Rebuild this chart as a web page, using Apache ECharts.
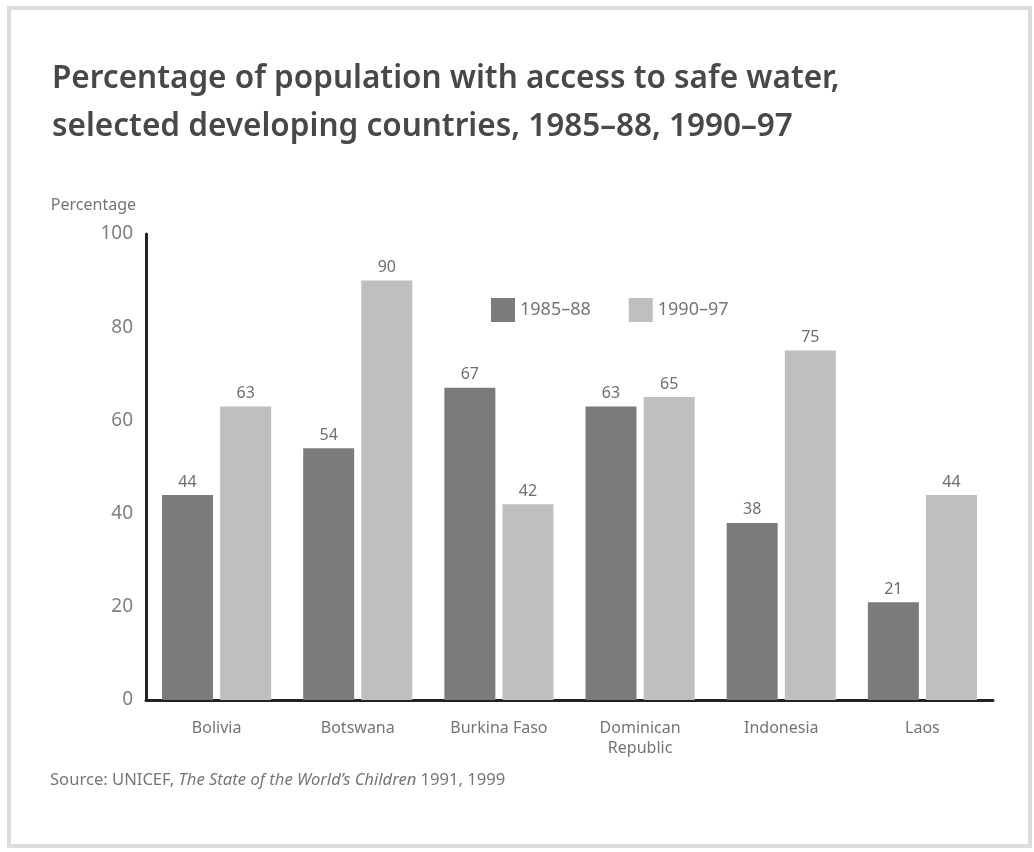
<!DOCTYPE html>
<html>
<head>
<meta charset="utf-8">
<script src="https://cdn.jsdelivr.net/npm/echarts@6/dist/echarts.min.js"></script>
<style>
  html, body { margin: 0; padding: 0; background: #ffffff; }
  #chart { width: 1034px; height: 852px; }
</style>
</head>
<body>
<div id="chart"></div>
<script>
// Countries and survey periods
const countries = ['Bolivia', 'Botswana', 'Burkina Faso', 'Dominican\nRepublic', 'Indonesia', 'Laos'];
const period1Name = '1985–88';
const period2Name = '1990–97';
// Percentage of population with access to safe water
const period1Values = [44, 54, 67, 63, 38, 21];
const period2Values = [63, 90, 42, 65, 75, 44];
// Value-axis ticks
const yTicks = [0, 20, 40, 60, 80, 100];

const FONT = '"Noto Sans", "Open Sans", sans-serif';
const DARK = '#7b7b7b';
const LIGHT = '#bfbfbf';
const TEXT = '#757575';

const chart = echarts.init(document.getElementById('chart'), null, { renderer: 'canvas' });

const labelStyle = {
  show: true,
  position: 'top',
  distance: 5,
  color: '#6e6e6e',
  fontFamily: FONT,
  fontSize: 16
};

chart.setOption({
  animation: false,
  backgroundColor: '#ffffff',
  textStyle: { fontFamily: FONT },
  title: {
    text: 'Percentage of population with access to safe water,\nselected developing countries, 1985–88, 1990–97',
    left: 47,
    top: 50,
    textStyle: {
      fontFamily: FONT,
      fontSize: 31.5,
      fontWeight: 600,
      color: '#4a4747',
      lineHeight: 48
    }
  },
  legend: {
    data: [period1Name, period2Name],
    left: 486,
    top: 293,
    itemWidth: 24,
    itemHeight: 24,
    itemGap: 38,
    icon: 'rect',
    textStyle: { fontFamily: FONT, fontSize: 18, color: TEXT, padding: [2, 0, 0, 0] }
  },
  grid: { left: 146, right: 41, top: 234, bottom: 152, containLabel: false },
  xAxis: {
    type: 'category',
    data: countries,
    axisLine: { show: true, lineStyle: { color: '#222222', width: 3 } },
    axisTick: { show: false },
    axisLabel: {
      color: TEXT,
      fontFamily: FONT,
      fontSize: 16,
      margin: 18,
      lineHeight: 20
    }
  },
  yAxis: {
    type: 'value',
    min: yTicks[0],
    max: yTicks[yTicks.length - 1],
    interval: yTicks[1] - yTicks[0],
    name: 'Percentage',
    nameLocation: 'end',
    nameGap: 21,
    nameTextStyle: { color: TEXT, fontFamily: FONT, fontSize: 16, align: 'right', padding: [0, 10, 0, 0] },
    axisLine: { show: true, lineStyle: { color: '#222222', width: 3 } },
    axisTick: { show: false },
    splitLine: { show: false },
    axisLabel: { color: '#808080', fontFamily: FONT, fontSize: 19, margin: 13, padding: [7, 0, 0, 0] }
  },
  series: [
    {
      name: period1Name,
      type: 'bar',
      data: period1Values,
      barWidth: 51,
      barGap: '14%',
      itemStyle: { color: DARK },
      label: labelStyle
    },
    {
      name: period2Name,
      type: 'bar',
      data: period2Values,
      barWidth: 51,
      barGap: '14%',
      itemStyle: { color: LIGHT },
      label: labelStyle
    }
  ],
  graphic: [
    {
      type: 'rect',
      shape: { x: 9, y: 8, width: 1021, height: 838 },
      style: { fill: 'none', stroke: '#dddddd', lineWidth: 4 },
      silent: true
    },
    {
      type: 'text',
      left: 50,
      top: 772,
      style: {
        text: '{n|Source: UNICEF, }{i|The State of the World’s Children}{n| 1991, 1999}',
        rich: {
          n: { fontFamily: FONT, fontSize: 16.6, fill: TEXT },
          i: { fontFamily: FONT, fontSize: 16.6, fontStyle: 'italic', fill: TEXT }
        }
      }
    }
  ]
});
</script>
</body>
</html>
